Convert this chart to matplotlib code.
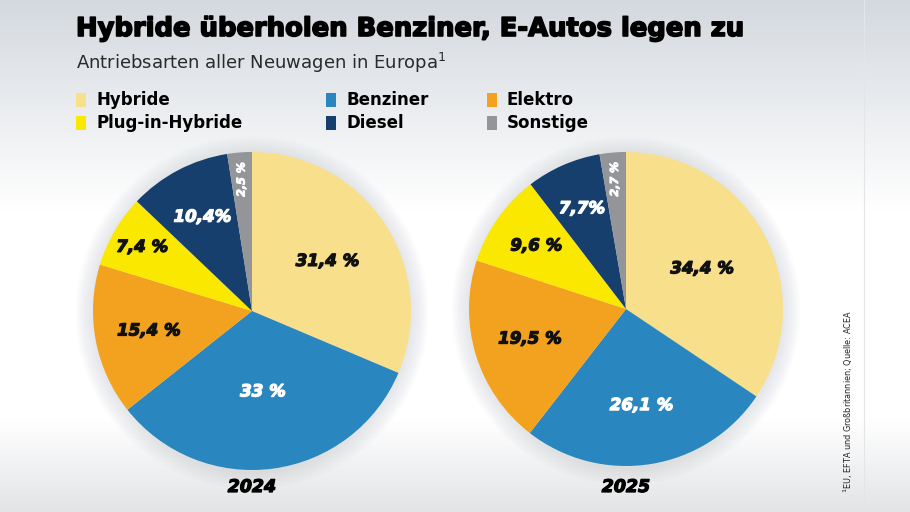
import numpy as np
import matplotlib
matplotlib.use("Agg")
import matplotlib.pyplot as plt
import matplotlib.patheffects as pe
from matplotlib.patches import Circle, Rectangle

# data
categories = ["Hybride", "Benziner", "Elektro", "Plug-in-Hybride", "Diesel", "Sonstige"]
colors = ["#f8df8b", "#2a86be", "#f3a21f", "#fbe800", "#173f6d", "#939598"]
values_2024 = [31.4, 33.0, 15.4, 7.4, 10.4, 2.5]
values_2025 = [34.4, 26.1, 19.5, 9.6, 7.7, 2.7]
labels_2024 = ["31,4 %", "33 %", "15,4 %", "7,4 %", "10,4%", "2,5 %"]
labels_2025 = ["34,4 %", "26,1 %", "19,5 %", "9,6 %", "7,7%", "2,7 %"]
years = ["2024", "2025"]

label_colors = ["#111111", "white", "#111111", "#111111", "white", "white"]
dist_2024 = [0.57, 0.51, 0.66, 0.80, 0.67, 0.83]
dist_2025 = [0.55, 0.62, 0.64, 0.70, 0.70, 0.83]

W, H = 910, 512
fig = plt.figure(figsize=(W / 100, H / 100), dpi=100)

# background gradient
bg = fig.add_axes([0, 0, 1, 1], zorder=-10)
ys = np.linspace(0, 1, 256)
top = np.array([212, 217, 223]) / 255
white = np.array([1.0, 1.0, 1.0])
bot = np.array([226, 228, 230]) / 255
grad = np.zeros((256, 1, 3))
for i, y in enumerate(ys):
    py = y * H
    if py < 210:
        t = py / 210
        grad[i, 0] = top * (1 - t) + white * t
    elif py < 420:
        grad[i, 0] = white
    else:
        t = (py - 420) / (H - 420)
        grad[i, 0] = white * (1 - t) + bot * t
bg.imshow(grad, aspect="auto", extent=[0, 1, 1, 0])
bg.set_xlim(0, 1)
bg.set_ylim(1, 0)
bg.axis("off")
bg.plot([864 / W, 864 / W], [0, 1], color="#e3e5e8", lw=0.8)

heavy = dict(family="DejaVu Sans", fontweight="bold", style="italic")


def thick(c, w=0.9):
    return [pe.withStroke(linewidth=w, foreground=c)]


def draw_pie(cx, cy, r, values, labels, dists, year):
    ax = fig.add_axes([(cx - r) / W, (H - cy - r) / H, 2 * r / W, 2 * r / H])
    # soft shadow
    for k in range(10):
        ax.add_patch(Circle((0, -0.01), 1.0 + 0.011 * (10 - k), color="#8a8f96",
                            alpha=0.02, lw=0, clip_on=False, zorder=0))
    ax.pie(values, colors=colors, startangle=90, counterclock=False,
           radius=1.0, wedgeprops=dict(linewidth=0), normalize=True)
    total = sum(values)
    start = 90.0
    for i, v in enumerate(values):
        span = 360.0 * v / total
        mid = np.deg2rad(start - span / 2)
        start -= span
        x = dists[i] * np.cos(mid)
        y = dists[i] * np.sin(mid)
        rot = 90 if categories[i] == "Sonstige" else 0
        size = 8 if rot else 12
        ax.text(x, y, labels[i], ha="center", va="center", rotation=rot,
                fontsize=size, color=label_colors[i],
                path_effects=thick(label_colors[i], 0.6 if rot else 0.9), **heavy)
    ax.set_xlim(-1, 1)
    ax.set_ylim(-1, 1)
    ax.set_aspect("equal")
    ax.axis("off")
    fig.text(cx / W, 1 - 487 / H, year, ha="center", va="center", fontsize=12.5,
             color="black", path_effects=thick("black"), **heavy)


draw_pie(252, 311, 159, values_2024, labels_2024, dist_2024, years[0])
draw_pie(626, 309, 157, values_2025, labels_2025, dist_2025, years[1])

# title and subtitle
fig.text(76 / W, 1 - 29 / H, "Hybride überholen Benziner, E-Autos legen zu",
         ha="left", va="center", fontsize=18.6, fontweight="bold",
         family="DejaVu Sans", color="black", path_effects=thick("black", 1.2))
fig.text(76 / W, 1 - 63 / H, "Antriebsarten aller Neuwagen in Europa$^{1}$",
         ha="left", va="center", fontsize=13, family="DejaVu Sans", color="#2a2a2a")

# legend
leg_x = [76, 326, 487]
leg_y = [100, 123]
order = [[0, 1, 2], [3, 4, 5]]
for row in range(2):
    for col in range(3):
        idx = order[row][col]
        x0 = leg_x[col]
        y0 = leg_y[row]
        fig.patches.append(Rectangle((x0 / W, 1 - (y0 + 7) / H), 10 / W, 14 / H,
                                     transform=fig.transFigure,
                                     color=colors[idx], lw=0))
        fig.text((x0 + 20) / W, 1 - y0 / H, categories[idx], ha="left", va="center",
                 fontsize=12, fontweight="bold", family="DejaVu Sans", color="black")

# footnote
fig.text(848 / W, 1 - 402 / H, "$^{1}$EU, EFTA und Großbritannien; Quelle: ACEA",
         ha="center", va="center", rotation=90, fontsize=6.5,
         family="DejaVu Sans", fontstretch="condensed", color="#222222")

fig.savefig("out.png", dpi=100)
